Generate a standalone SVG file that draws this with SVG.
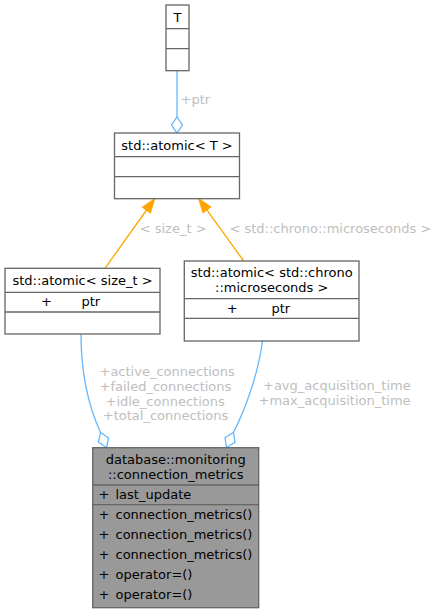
<svg xmlns="http://www.w3.org/2000/svg" width="436" height="613" viewBox="0 0 436 613">
<style>
text{font-family:"DejaVu Sans","Liberation Sans",sans-serif;font-size:13px;fill:#000}
.c{text-anchor:middle}
.lbl{fill:#bebebe}
.box{fill:#fff;stroke:#666;stroke-width:1.3}
.main{fill:#999;stroke:#666;stroke-width:1.3}
.div{stroke:#666;stroke-width:1.3;fill:none}
.blue{stroke:#63b8ff;stroke-width:1.3;fill:none}
.bluehead{stroke:#63b8ff;stroke-width:1.3;fill:#fff}
.orange{stroke:#ffa500;stroke-width:1.3;fill:none}
.orangehead{stroke:#ffa500;stroke-width:1.3;fill:#ffa500}
</style>
<rect width="436" height="613" fill="#fff"/>
<g id="connectors">
  <path class="blue" d="M177,70.7 L177,117"/>
  <polygon class="bluehead" points="177,117 182.5,125 177,133 171.5,125"/>
  <text class="lbl" x="180.5" y="104">+ptr</text>
  <path class="orange" d="M105,268.3 L146.6,210"/>
  <polygon class="orangehead" points="154.3,199.2 150.4,212.7 142.8,207.3"/>
  <text class="lbl" x="139.7" y="233">&lt; size_t &gt;</text>
  <path class="orange" d="M243.7,261 L206.8,209.8"/>
  <polygon class="orangehead" points="199,199 210.6,207.1 203,212.5"/>
  <text class="lbl" x="229.4" y="233">&lt; std::chrono::microseconds &gt;</text>
  <path class="blue" d="M81,334 C81,370 88,405 100.5,432.5"/>
  <polygon class="bluehead" points="100.5,432.5 108.6,438 106.5,447.5 98.4,442"/>
  <text class="lbl" x="99.5" y="376.4">+active_connections</text>
  <text class="lbl" x="99.5" y="391">+failed_connections</text>
  <text class="lbl" x="105.5" y="405.5">+idle_connections</text>
  <text class="lbl" x="102.8" y="420.2">+total_connections</text>
  <path class="blue" d="M262.5,341 C258,375 245,410 233.5,432.5"/>
  <polygon class="bluehead" points="233.5,432.5 235,442.3 226.5,447.5 225,437.7"/>
  <text class="lbl" x="263" y="390">+avg_acquisition_time</text>
  <text class="lbl" x="258.5" y="404.5">+max_acquisition_time</text>
</g>
<g id="node-T">
  <rect class="box" x="166" y="5" width="23" height="65.7"/>
  <path class="div" d="M166,28.7 H189 M166,48.7 H189"/>
  <text class="c" x="177.5" y="21.5">T</text>
</g>
<g id="node-atomic-T">
  <rect class="box" x="114.5" y="133" width="125" height="65.7"/>
  <path class="div" d="M114.5,156.7 H239.5 M114.5,176.7 H239.5"/>
  <text class="c" x="177" y="149.5">std::atomic&lt; T &gt;</text>
</g>
<g id="node-atomic-size_t">
  <rect class="box" x="5" y="268.3" width="155" height="65.7"/>
  <path class="div" d="M5,292.3 H160 M5,312 H160"/>
  <text class="c" x="82.5" y="285">std::atomic&lt; size_t &gt;</text>
  <text x="41" y="306">+</text>
  <text x="81.5" y="306">ptr</text>
</g>
<g id="node-atomic-chrono">
  <rect class="box" x="184.3" y="261" width="174.7" height="80"/>
  <path class="div" d="M184.3,298.7 H359 M184.3,318.3 H359"/>
  <text class="c" x="271.7" y="277">std::atomic&lt; std::chrono</text>
  <text class="c" x="271.7" y="292">::microseconds &gt;</text>
  <text x="226.7" y="313">+</text>
  <text x="271.5" y="313">ptr</text>
</g>
<g id="node-connection_metrics">
  <rect class="main" x="92.7" y="447.7" width="166" height="160"/>
  <path class="div" d="M92.7,485 H258.7 M92.7,504.7 H258.7"/>
  <text class="c" x="175.7" y="463.5">database::monitoring</text>
  <text class="c" x="175.7" y="478.5">::connection_metrics</text>
  <text x="98.5" y="499">+</text>
  <text x="115.5" y="499">last_update</text>
  <text x="98.5" y="519">+</text>
  <text x="115.5" y="519">connection_metrics()</text>
  <text x="98.5" y="539">+</text>
  <text x="115.5" y="539">connection_metrics()</text>
  <text x="98.5" y="559">+</text>
  <text x="115.5" y="559">connection_metrics()</text>
  <text x="98.5" y="579">+</text>
  <text x="115.5" y="579">operator=()</text>
  <text x="98.5" y="599">+</text>
  <text x="115.5" y="599">operator=()</text>
</g>
</svg>
